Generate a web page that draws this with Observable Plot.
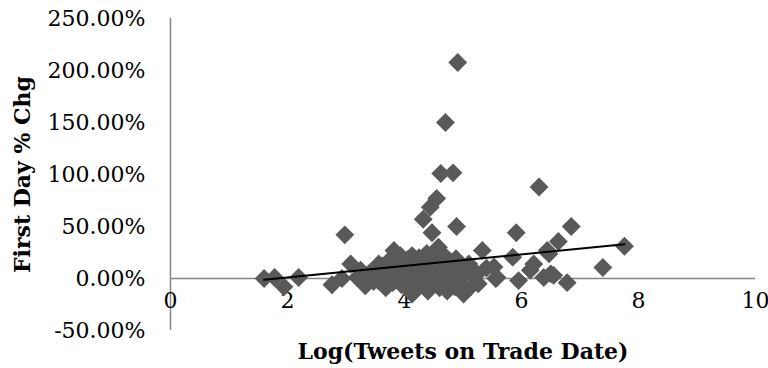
<!DOCTYPE html>
<html>
<head>
<meta charset="utf-8">
<script src="https://cdn.jsdelivr.net/npm/d3@7"></script>
<script src="https://cdn.jsdelivr.net/npm/@observablehq/plot@0.6"></script>
<style>
  html, body { margin: 0; padding: 0; background: #fff; }
</style>
</head>
<body>
<div id="chart"></div>
<script>
// Log(Tweets on Trade Date)
const logTweets = [
  1.60, 1.78, 1.94, 2.19, 2.76, 2.93, 2.98, 3.08, 3.19, 3.25, 3.33, 3.40, 3.47, 3.56,
  3.55, 3.60, 3.62, 3.68, 3.72, 3.75, 3.80, 3.82, 3.85, 3.88, 3.90, 3.93, 3.95, 3.98,
  4.02, 4.03, 4.05, 4.08, 4.10, 4.13, 4.13, 4.15, 4.18, 4.20, 4.22, 4.25, 4.27, 4.30,
  4.32, 4.35, 4.38, 4.40, 4.42, 4.45, 4.47, 4.50, 4.52, 4.55, 4.58, 4.60, 4.62, 4.65,
  4.68, 4.70, 4.73, 4.75, 4.78, 4.80, 4.83, 4.86, 4.88, 4.90, 4.93, 4.96, 5.01, 5.05,
  5.10, 5.13, 5.20, 5.24, 5.26, 5.33, 5.40,
  4.32, 4.44, 4.55, 4.47, 4.62, 4.83, 4.70, 4.91, 4.89,
  5.53, 5.56, 5.58, 5.85, 5.91, 5.95, 6.15, 6.21, 6.30, 6.38, 6.44, 6.47, 6.50, 6.55,
  6.63, 6.78, 6.85, 7.39, 7.76
];
// First Day % Chg (percent)
const firstDayChg = [
  0, 1, -8, 1, -6, 0, 42, 14, 1, 8, -7, 5, -3, 14,
  -2, 5, 12, -9, 3, 18, -4, 27, 8, -1, 15, 22, -6, 4,
  -7, 10, 18, 0, -3, 22, -15, 6, 12, -10, 2, 20, -5, 8,
  15, -2, 24, -12, 4, 11, -7, 18, 0, 6, 30, -9, 13, 2,
  22, -4, -12, 8, 16, -1, 5, -8, 19, 10, 1, -5, -15, 6,
  14, -8, 2, 4.5, -5, 27, 10,
  57, 68.6, 77, 44, 101, 101.6, 150, 207.7, 50,
  11, 0, 1, 20.5, 44, -2, 8, 14, 88, 1, 27, 23.7, 4.5, 3,
  35.6, -4, 50, 10.6, 31
];
// Trend line end points
const trendX = [1.6, 7.76];
const trendY = [-1.3, 33];
// Ticks
const xTicks = [0, 2, 4, 6, 8, 10];
const yTicks = [-50, 0, 50, 100, 150, 200, 250];
const xTitle = "Log(Tweets on Trade Date)";
const yTitle = "First Day % Chg";

const points = logTweets.map((x, i) => ({x, y: firstDayChg[i]}));
const trend = trendX.map((x, i) => ({x, y: trendY[i]}));

const chart = Plot.plot({
  width: 768,
  height: 368,
  marginLeft: 170,
  marginRight: 13,
  marginTop: 18,
  marginBottom: 38,
  style: {fontFamily: "DejaVu Serif", fontSize: "22px", color: "#000", background: "#fff"},
  x: {domain: [0, 10], axis: null},
  y: {domain: [-50, 250], axis: null},
  marks: [
    Plot.ruleY([0], {stroke: "#868686", strokeWidth: 1.5}),
    Plot.ruleX([0], {stroke: "#868686", strokeWidth: 1.5}),
    Plot.axisY(yTicks, {tickSize: 0, tickPadding: 25, tickFormat: d => d.toFixed(2) + "%", fontSize: 22, label: null}),
    Plot.text(xTicks, {x: d => d, y: 0, dy: 22, text: d => String(d), fontSize: 22, fill: "#000"}),
    Plot.dot(points, {x: "x", y: "y", symbol: "diamond2", r: 8.5, fill: "#595959", stroke: "none"}),
    Plot.line(trend, {x: "x", y: "y", stroke: "#000", strokeWidth: 2}),
    Plot.text([xTitle], {frameAnchor: "bottom", dy: 28, text: d => d, fontWeight: "bold", fontSize: 22, fill: "#000"}),
    Plot.text([yTitle], {frameAnchor: "left", dx: -148, rotate: -90, textAnchor: "middle", lineAnchor: "middle", text: d => d, fontWeight: "bold", fontSize: 22, fill: "#000"})
  ]
});
document.getElementById("chart").appendChild(chart);
</script>
</body>
</html>
